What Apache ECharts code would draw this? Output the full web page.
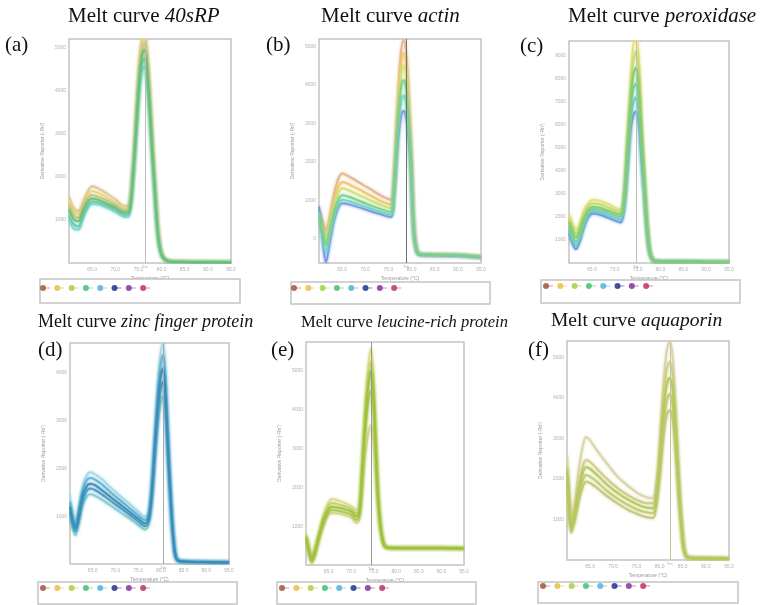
<!DOCTYPE html>
<html><head><meta charset="utf-8">
<script src="https://cdn.jsdelivr.net/npm/echarts@6/dist/echarts.min.js"></script>
<style>html,body{margin:0;padding:0;background:#fff}#c{width:761px;height:605px}</style>
</head><body><div id="c"></div>
<script>
// ---------- DATA ----------
const geneNames = ['40sRP','actin','peroxidase','zinc finger protein','leucine-rich protein','aquaporin'];
const panelLetters = ['(a)','(b)','(c)','(d)','(e)','(f)'];
const xTicks = [65,70,75,80,85,90,95];
const yTicksA = [1,2,3,4,5];
const yTicksB = [0,1,2,3,4,5];
const yTicksC = [1,2,3,4,5,6,7,8,9];
const yTicksD = [1,2,3,4];
const yTicksE = [1,2,3,4,5];
const yTicksF = [1,2,3,4,5];
const tmValues = [76.4, 78.8, 74.7, 80.5, 74.4, 82.2];
const legendColors = ['#a5533c','#e8c044','#a8d046','#44c074','#54b0e0','#24328e','#8434a0','#c0325e'];

// (a) 40sRP
const tempA = [60,61,62,63,64,65,66.5,68,70,72,73,73.8,74.6,75.3,75.9,76.3,76.8,77.4,78,78.6,79.3,80.2,82,86,95];
const a1 = [1.55,1.28,1.2,1.42,1.65,1.78,1.72,1.62,1.48,1.32,1.36,2.15,3.6,4.85,5.3,5.4,5.05,4.05,2.85,1.75,0.68,0.17,0.04,0.03,0.02];
const a2 = [1.46,1.2,1.13,1.35,1.57,1.67,1.62,1.53,1.41,1.27,1.31,2.1,3.5,4.7,5.15,5.25,4.9,3.95,2.78,1.7,0.66,0.17,0.04,0.03,0.02];
const a3 = [1.36,1.12,1.05,1.28,1.5,1.58,1.53,1.46,1.35,1.22,1.26,2.05,3.4,4.55,5.02,5.1,4.75,3.82,2.7,1.65,0.63,0.16,0.03,0.02,0.01];
const a4 = [1.25,1.02,0.97,1.2,1.42,1.5,1.46,1.39,1.29,1.17,1.2,2.0,3.3,4.4,4.88,4.95,4.6,3.7,2.6,1.6,0.6,0.15,0.03,0.02,0.01];
const a5 = [1.1,0.9,0.85,1.1,1.33,1.43,1.4,1.34,1.24,1.12,1.15,1.95,3.2,4.25,4.7,4.75,4.42,3.57,2.52,1.55,0.58,0.14,0.03,0.02,0.01];
const a6 = [1.0,0.8,0.77,1.02,1.26,1.37,1.35,1.29,1.19,1.07,1.1,1.9,3.1,4.1,4.52,4.56,4.25,3.45,2.45,1.5,0.56,0.14,0.03,0.02,0.01];

// (b) actin
const tempB = [60,60.7,61.5,62.4,63.5,65,66.5,68.5,71,73.5,75.5,76.2,76.9,77.6,78.2,78.6,79.1,79.8,80.5,81.2,82,85,90,95];
const b1 = [0.75,0.5,0.23,0.65,1.3,1.7,1.62,1.48,1.3,1.12,1.02,1.65,3.3,4.7,5.15,5.1,4.4,2.6,0.25,-0.33,-0.4,-0.41,-0.42,-0.46];
const b2 = [0.68,0.38,0.08,0.5,1.12,1.48,1.42,1.3,1.14,0.98,0.9,1.5,3.1,4.4,4.82,4.78,4.1,2.45,0.23,-0.33,-0.4,-0.41,-0.42,-0.46];
const b3 = [0.63,0.3,-0.03,0.38,0.95,1.32,1.26,1.15,1.01,0.88,0.8,1.4,2.9,4.1,4.5,4.46,3.85,2.3,0.21,-0.34,-0.4,-0.41,-0.42,-0.46];
const b4 = [0.6,0.2,-0.15,0.25,0.8,1.14,1.1,1.0,0.88,0.77,0.7,1.3,2.7,3.8,4.12,4.08,3.55,2.2,0.2,-0.34,-0.4,-0.41,-0.42,-0.46];
const b5 = [0.7,0.15,-0.35,0.1,0.68,1.02,0.98,0.9,0.8,0.7,0.63,1.2,2.5,3.45,3.72,3.68,3.2,2.05,0.18,-0.35,-0.4,-0.41,-0.42,-0.47];
const b6 = [0.85,0.05,-0.6,-0.05,0.58,0.93,0.9,0.83,0.73,0.64,0.57,1.1,2.3,3.1,3.32,3.28,2.9,1.9,0.16,-0.35,-0.41,-0.42,-0.43,-0.48];

// (c) peroxidase
const tempC = [60,60.8,61.5,62.3,63.2,64.2,65.3,66.8,68.5,70.2,71.3,72,72.8,73.5,74.1,74.7,75.3,75.9,76.5,77.1,77.7,78.4,79.5,82,87,95];
const c1 = [2.15,1.7,1.45,1.7,2.25,2.6,2.75,2.7,2.57,2.4,2.32,2.95,5.6,8.0,9.5,9.9,8.8,6.1,3.8,1.65,0.48,0.12,0.06,0.05,0.05,0.04];
const c2 = [1.95,1.5,1.28,1.52,2.05,2.45,2.6,2.55,2.43,2.28,2.2,2.8,5.3,7.5,8.8,9.2,8.2,5.7,3.6,1.58,0.47,0.12,0.06,0.05,0.05,0.04];
const c3 = [1.8,1.35,1.1,1.35,1.9,2.3,2.45,2.4,2.28,2.15,2.1,2.65,5.0,7.0,8.2,8.5,7.5,5.3,3.4,1.5,0.45,0.12,0.06,0.05,0.05,0.04];
const c4 = [1.6,1.15,0.9,1.18,1.75,2.2,2.35,2.3,2.18,2.05,2.0,2.5,4.7,6.6,7.6,7.8,6.95,4.95,3.2,1.45,0.44,0.12,0.06,0.05,0.05,0.04];
const c5 = [1.45,0.98,0.75,1.05,1.62,2.08,2.25,2.2,2.07,1.94,1.88,2.38,4.4,6.2,7.0,7.2,6.45,4.65,3.05,1.4,0.43,0.11,0.06,0.05,0.05,0.04];
const c6 = [1.3,0.82,0.6,0.9,1.5,1.98,2.15,2.1,1.97,1.83,1.76,2.25,4.1,5.8,6.45,6.6,5.95,4.35,2.9,1.35,0.42,0.11,0.06,0.05,0.05,0.04];

// (d) zinc finger protein
const tempD = [60,60.6,61.2,61.9,62.7,63.6,64.5,65.5,67,69,71,73,75,76.5,77.3,78,78.7,79.4,80,80.5,81,81.6,82.2,82.8,83.5,85,89,95];
const d1 = [1.45,1.05,0.88,1.15,1.6,1.85,1.92,1.88,1.78,1.6,1.43,1.27,1.1,0.99,1.08,1.7,2.8,3.9,4.45,4.65,4.1,2.7,1.45,0.55,0.11,0.05,0.04,0.03];
const d2 = [1.3,0.98,0.8,1.08,1.5,1.74,1.8,1.77,1.67,1.5,1.34,1.18,1.02,0.92,1.02,1.6,2.65,3.65,4.2,4.38,3.85,2.55,1.38,0.52,0.1,0.05,0.04,0.03];
const d3 = [1.2,0.9,0.75,1.0,1.4,1.62,1.68,1.65,1.55,1.4,1.25,1.1,0.95,0.85,0.95,1.5,2.5,3.4,3.95,4.1,3.6,2.4,1.3,0.5,0.1,0.05,0.04,0.03];
const d4 = [1.1,0.82,0.68,0.92,1.3,1.52,1.58,1.55,1.46,1.32,1.18,1.04,0.89,0.79,0.89,1.42,2.35,3.2,3.68,3.82,3.35,2.25,1.22,0.47,0.09,0.05,0.04,0.03];
const d5 = [1.0,0.74,0.6,0.85,1.2,1.4,1.46,1.43,1.35,1.22,1.09,0.96,0.82,0.72,0.82,1.32,2.2,2.98,3.4,3.52,3.1,2.1,1.15,0.44,0.09,0.05,0.04,0.03];

// (e) leucine-rich protein
const tempE = [60,60.6,61.3,62,62.9,63.9,64.9,65.8,67,68.5,70,71.2,71.8,72.4,72.9,73.4,73.9,74.4,74.9,75.4,75.9,76.5,77.2,78,80,85,90,95];
const e1 = [0.82,0.5,0.2,0.45,0.85,1.3,1.6,1.7,1.67,1.6,1.52,1.42,1.5,2.6,3.7,4.6,5.25,5.6,5.0,3.55,2.1,1.1,0.58,0.46,0.45,0.45,0.45,0.44];
const e2 = [0.77,0.45,0.16,0.4,0.8,1.22,1.5,1.6,1.57,1.52,1.45,1.33,1.42,2.45,3.5,4.35,4.95,5.25,4.72,3.35,2.0,1.05,0.56,0.45,0.44,0.44,0.44,0.43];
const e3 = [0.72,0.4,0.12,0.35,0.75,1.15,1.42,1.5,1.48,1.44,1.38,1.25,1.35,2.3,3.3,4.1,4.7,5.0,4.5,3.2,1.9,1.0,0.55,0.45,0.44,0.44,0.44,0.43];
const e4 = [0.68,0.36,0.08,0.3,0.7,1.08,1.34,1.42,1.4,1.36,1.3,1.16,1.26,2.15,3.05,3.8,4.3,4.5,4.1,2.95,1.78,0.95,0.53,0.44,0.43,0.43,0.43,0.42];
const e5 = [0.64,0.32,0.05,0.26,0.65,1.02,1.27,1.34,1.33,1.29,1.23,1.08,1.17,1.85,2.6,3.1,3.45,3.6,3.3,2.45,1.55,0.88,0.5,0.43,0.42,0.42,0.42,0.41];

// (f) aquaporin
const tempF = [60,60.4,60.9,61.6,62.5,63.3,64.1,65,66.5,68.5,71,73.5,76,77.5,78.6,79.2,79.8,80.4,81,81.6,82.2,82.8,83.4,84.1,84.8,85.6,87,91,95];
const f1 = [2.6,1.8,1.0,1.35,2.2,2.75,3.04,2.95,2.7,2.4,2.05,1.8,1.6,1.54,1.53,1.8,2.5,3.6,4.6,5.2,5.4,5.05,3.95,2.25,0.9,0.13,0.05,0.04,0.03];
const f2 = [2.3,1.6,0.9,1.18,1.85,2.27,2.47,2.42,2.25,2.02,1.77,1.58,1.44,1.4,1.4,1.65,2.3,3.3,4.2,4.75,4.9,4.6,3.6,2.05,0.85,0.12,0.05,0.04,0.03];
const f3 = [2.2,1.5,0.82,1.1,1.7,2.1,2.3,2.25,2.1,1.88,1.65,1.47,1.33,1.29,1.28,1.5,2.1,3.0,3.85,4.35,4.5,4.22,3.3,1.9,0.8,0.12,0.05,0.04,0.03];
const f4 = [2.05,1.4,0.75,1.02,1.56,1.93,2.1,2.06,1.93,1.72,1.51,1.34,1.21,1.17,1.16,1.38,1.95,2.75,3.5,3.95,4.1,3.85,3.05,1.78,0.75,0.11,0.05,0.04,0.03];
const f5 = [1.95,1.3,0.67,0.94,1.43,1.77,1.93,1.9,1.78,1.59,1.39,1.22,1.1,1.05,1.04,1.25,1.8,2.5,3.2,3.6,3.7,3.5,2.8,1.65,0.7,0.1,0.05,0.04,0.03];

// ---------- PANEL DEFINITIONS (data refs) ----------
const panelData = [
  {temps: tempA, curves: [a1,a2,a3,a6,a5,a4], yMin: 0, yMax: 5.2, yTicks: yTicksA},
  {temps: tempB, curves: [b1,b2,b3,b6,b5,b4], yMin: -0.62, yMax: 5.19, yTicks: yTicksB},
  {temps: tempC, curves: [c1,c2,c6,c5,c4,c3], yMin: 0, yMax: 9.65, yTicks: yTicksC},
  {temps: tempD, curves: [d1,d5,d2,d4,d3], yMin: 0, yMax: 4.63, yTicks: yTicksD},
  {temps: tempE, curves: [e1,e5,e2,e4,e3], yMin: 0, yMax: 5.75, yTicks: yTicksE},
  {temps: tempF, curves: [f1,f2,f5,f4,f3], yMin: 0, yMax: 5.41, yTicks: yTicksF}
];

// ---------- STYLES / LAYOUT ----------
const curveColors = [
  ['#dcc6a0','#ecd87c','#c8c488','#7fd9d9','#66cbb0','#6cbf70'],
  ['#e2b48e','#f0c468','#cfe07a','#7894e0','#6fd4d0','#7ccf84'],
  ['#e6e07a','#c4dc72','#6a92d6','#6cc6e0','#72d0a4','#84cc6c'],
  ['#a5dbe4','#86cdd2','#62b4d2','#4a9cc4','#3a8cb8'],
  ['#dcdc8c','#d6d890','#c2d468','#b0c850','#9cc040'],
  ['#d8d4a8','#cfcb88','#c6c47a','#c0cc70','#b4c858']
];
const tmColors = ['#bdbdbd','#707070','#bdbdbd','#aaaaaa','#999999','#c4c4a0'];
const layout = [
  {grid:{left:69,top:39,width:162,height:224}, title:{left:68,top:6,size:21}, letter:{left:5,top:35}, lg:{x:40,y:279,w:200,h:24,dx:43,dy:288}},
  {grid:{left:319,top:39,width:162,height:224}, title:{left:321,top:6,size:21}, letter:{left:266,top:35}, lg:{x:291,y:282,w:199,h:22,dx:294,dy:288}},
  {grid:{left:569,top:41,width:160,height:222}, title:{left:568,top:6,size:21}, letter:{left:520,top:36}, lg:{x:541,y:280,w:199,h:23,dx:546,dy:286}},
  {grid:{left:70,top:343,width:159,height:221}, title:{left:38,top:313,size:18}, letter:{left:38,top:340}, lg:{x:38,y:582,w:199,h:22,dx:43,dy:588}},
  {grid:{left:306,top:342,width:158,height:223}, title:{left:301,top:314,size:16.5}, letter:{left:271,top:340}, lg:{x:277,y:582,w:199,h:22,dx:282,dy:588}},
  {grid:{left:567,top:341,width:162,height:219}, title:{left:551,top:311,size:19.5}, letter:{left:528,top:340}, lg:{x:538,y:582,w:200,h:21,dx:543,dy:586}}
];

// ---------- BUILD ----------
const serif = '"Liberation Serif","DejaVu Serif",serif';
const grids = [], xAxes = [], yAxes = [], series = [], titles = [], graphics = [];

panelData.forEach((p, i) => {
  const L = layout[i];
  grids.push(Object.assign({show:true, borderColor:'#c4c4c4', borderWidth:1.5, backgroundColor:'#fff'}, L.grid));
  xAxes.push({
    type:'value', gridIndex:i, min:60, max:95, interval:5,
    axisLine:{show:false}, axisTick:{show:false}, splitLine:{show:false},
    axisLabel:{fontSize:5, color:'#b0b0b0', margin:4, showMinLabel:false, formatter: v => v.toFixed(1)},
    name:'Temperature (°C)', nameLocation:'middle', nameGap:13,
    nameTextStyle:{fontSize:5, color:'#999'}
  });
  yAxes.push({
    type:'value', gridIndex:i, min:p.yMin, max:p.yMax,
    axisLine:{show:false}, axisTick:{show:false}, splitLine:{show:false},
    axisLabel:{fontSize:5, color:'#b0b0b0', margin:3, customValues:p.yTicks, formatter: v => (v*1000).toFixed(0)},
    name:"Derivative Reporter (-Rn')", nameLocation:'middle', nameGap:24, nameRotate:90,
    nameTextStyle:{fontSize:5, color:'#999'}
  });
  p.curves.forEach((vals, j) => {
    const col = curveColors[i][j];
    const s = {
      type:'line', xAxisIndex:i, yAxisIndex:i, silent:true,
      data: p.temps.map((t,k) => [t, vals[k]]),
      showSymbol:false, smooth:0.35,
      lineStyle:{color:col, width:2, opacity:0.92, shadowBlur:3, shadowColor:col}
    };
    if (j === 0) {
      s.markLine = {
        silent:true, symbol:['none','none'], animation:false,
        lineStyle:{color:tmColors[i], width:1, type:'solid', shadowBlur:0},
        label:{show:true, position:'start', formatter:'Tm', fontSize:4, color:'#aaa', distance:2},
        data:[{xAxis: tmValues[i]}]
      };
    }
    series.push(s);
  });
  titles.push({
    text:'{n|Melt curve }{i|' + geneNames[i] + '}', left:L.title.left, top:L.title.top, padding:0,
    textStyle:{fontWeight:'normal', fontFamily:serif, fontSize:L.title.size, rich:{
      n:{fontFamily:serif, fontSize:L.title.size, fontWeight:'normal', color:'#111'},
      i:{fontFamily:serif, fontSize:L.title.size, fontWeight:'normal', fontStyle:'italic', color:'#111'}
    }}
  });
  titles.push({
    text: panelLetters[i], left:L.letter.left, top:L.letter.top, padding:0,
    textStyle:{fontFamily:serif, fontSize:21, fontWeight:'normal', color:'#111'}
  });
  const g = L.lg;
  graphics.push({type:'rect', shape:{x:g.x, y:g.y, width:g.w, height:g.h}, style:{fill:'#fff', stroke:'#c4c4c4', lineWidth:1.5}, z:1});
  legendColors.forEach((c, k) => {
    const cx = g.dx + k*14.3;
    graphics.push({type:'line', shape:{x1:cx, y1:g.dy, x2:cx+7, y2:g.dy}, style:{stroke:c, lineWidth:1, opacity:0.55}, z:2});
    graphics.push({type:'circle', shape:{cx:cx, cy:g.dy, r:3}, style:{fill:c, opacity:0.85}, z:3});
  });
});

const chart = echarts.init(document.getElementById('c'), null, {renderer:'canvas'});
chart.setOption({
  animation:false,
  backgroundColor:'#fff',
  title: titles,
  grid: grids,
  xAxis: xAxes,
  yAxis: yAxes,
  series: series,
  graphic: graphics
});
</script>
</body></html>
